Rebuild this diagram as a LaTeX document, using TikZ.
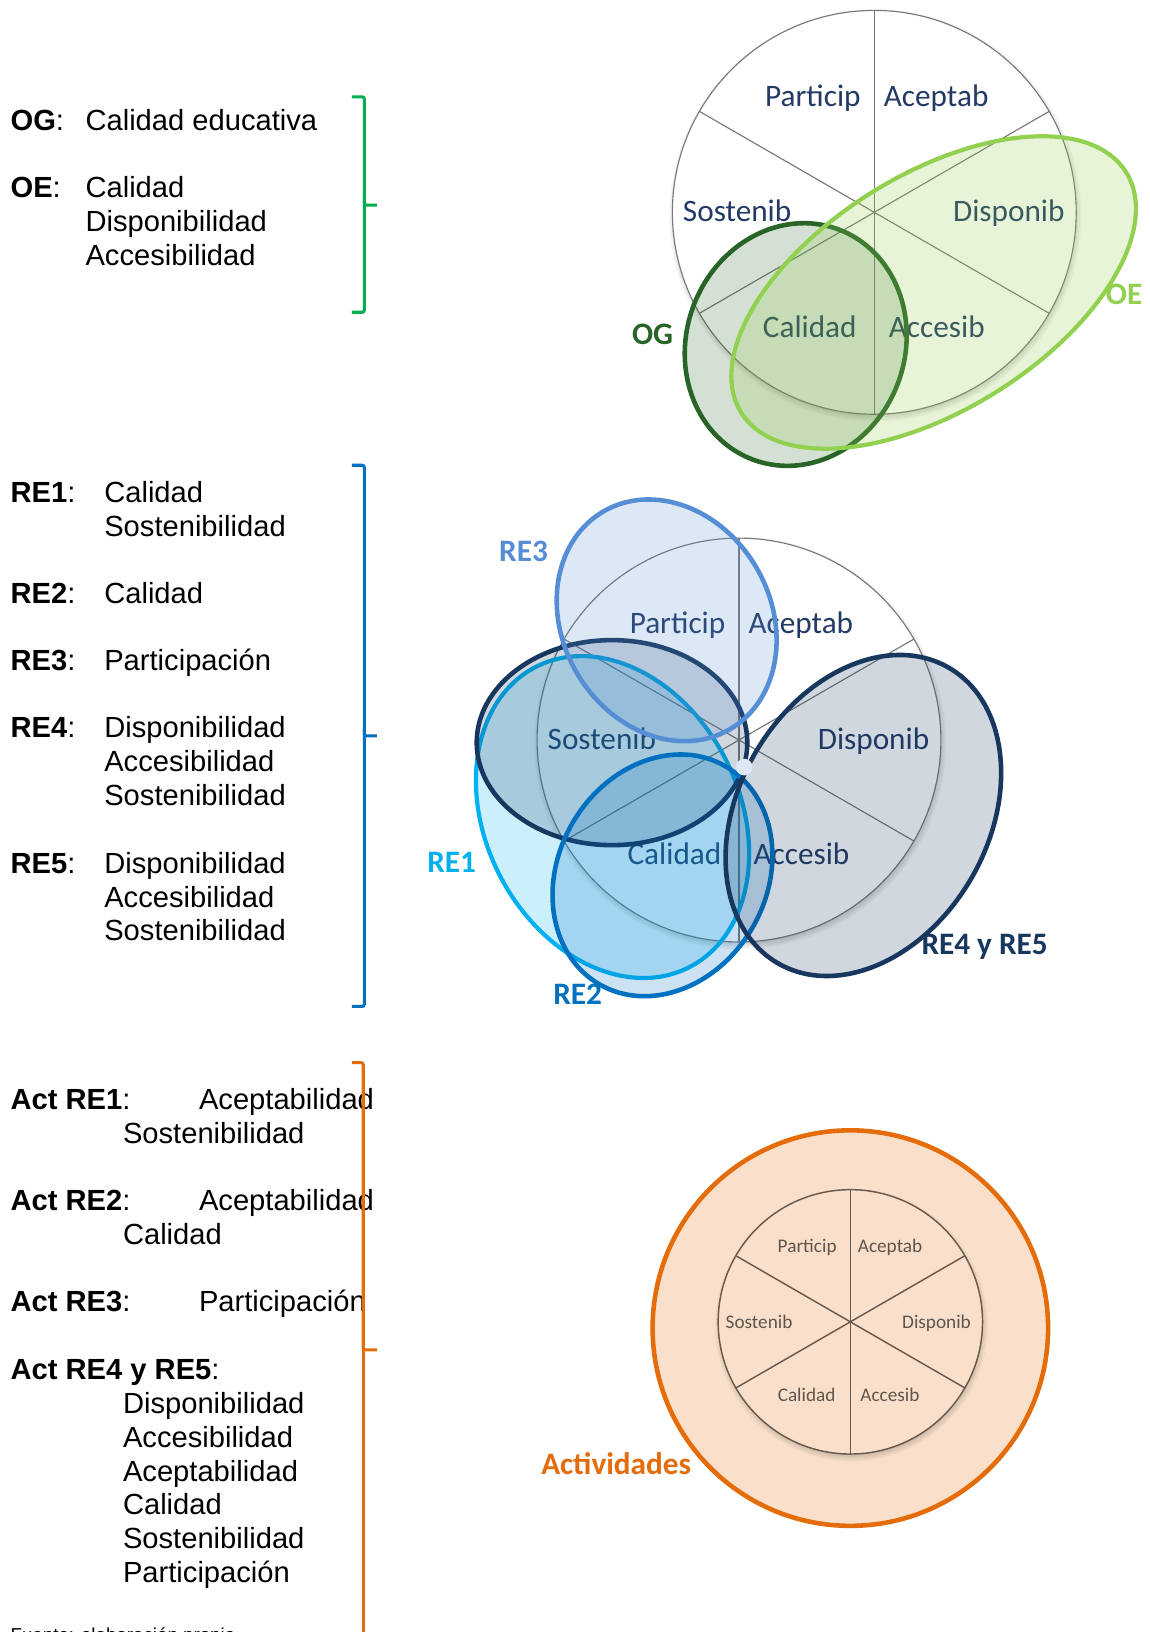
\documentclass[tikz,border=0pt]{standalone}
\usepackage{fontspec}
\setmainfont{Liberation Sans}
\newfontfamily\carl{Carlito}
\usetikzlibrary{calc}
\definecolor{gbr}{RGB}{0,176,80}
\definecolor{bbr}{RGB}{0,112,192}
\definecolor{obr}{RGB}{228,108,10}
\definecolor{pielab}{RGB}{35,58,100}
\definecolor{ogcol}{RGB}{40,100,40}
\definecolor{oecol}{RGB}{146,208,80}
\definecolor{recolc}{RGB}{85,142,213}
\definecolor{recola}{RGB}{0,176,240}
\definecolor{recolb}{RGB}{0,112,192}
\definecolor{recold}{RGB}{23,55,94}
\definecolor{peach}{RGB}{250,224,202}
\definecolor{brn}{RGB}{95,85,78}
\definecolor{pieln}{RGB}{120,120,120}
\definecolor{brnln}{RGB}{105,90,80}
\newcommand\drawpie[4]{%
  \foreach \i in {0,...,5} \fill[black,opacity=0.035] ($(#1)+(1,3)$) circle ({#2+4-\i*1.5});
  \fill[#4] (#1) circle (#2);
  \foreach \a in {90,30,150} \draw[#3] ($(#1)+(\a:#2)$) -- ($(#1)+(\a+180:#2)$);
  \draw[#3] (#1) circle (#2);
}
\begin{document}
\begin{tikzpicture}[x=1pt,y=-1pt,
  txt/.style={anchor=base west, inner sep=0pt, font=\fontsize{28}{32.5}\selectfont},
  lbl/.style={anchor=base, inner sep=0pt, font=\carl\fontsize{30}{32}\selectfont\bfseries},
  pl/.style={inner sep=0pt, font=\carl\fontsize{30}{32}\selectfont, text=pielab},
  spl/.style={inner sep=0pt, font=\carl\fontsize{18.5}{20}\selectfont, text=brn},
  brack/.style={line width=2.9pt, rounded corners=2pt},
  ring/.style={line width=4.4pt},
  bigline/.style={draw=pieln, line width=1.1pt},
  smallline/.style={draw=brnln, line width=1.4pt}]
\useasboundingbox (0,0) rectangle (1104,1568);
\fill[white] (0,0) rectangle (1104,1568);

% ---------------- left texts ----------------
\node[txt] (og) at (10,125) {\textbf{OG}:};
\node[txt] (ogv) at (82,125) {Calidad educativa};
\node[txt] (oe) at (10,190) {\textbf{OE}:};
\node[txt] (oev) at (82,190) {\begin{tabular}[t]{@{}l@{}}Calidad\\Disponibilidad\\Accesibilidad\end{tabular}};

\node[txt] (re1) at (10,483) {\textbf{RE1}:};
\node[txt] (re1v) at (100,483) {\begin{tabular}[t]{@{}l@{}}Calidad\\Sostenibilidad\end{tabular}};
\node[txt] (re2) at (10,580) {\textbf{RE2}:};
\node[txt] (re2v) at (100,580) {Calidad};
\node[txt] (re3) at (10,644) {\textbf{RE3}:};
\node[txt] (re3v) at (100,644) {Participación};
\node[txt] (re4) at (10,709) {\textbf{RE4}:};
\node[txt] (re4v) at (100,709) {\begin{tabular}[t]{@{}l@{}}Disponibilidad\\Accesibilidad\\Sostenibilidad\end{tabular}};
\node[txt] (re5) at (10,839) {\textbf{RE5}:};
\node[txt] (re5v) at (100,839) {\begin{tabular}[t]{@{}l@{}}Disponibilidad\\Accesibilidad\\Sostenibilidad\end{tabular}};

\node[txt] (a1) at (10,1066) {\textbf{Act RE1}:};
\node[txt] (a1v) at (191,1066) {Aceptabilidad};
\node[txt] (a1w) at (118,1099) {Sostenibilidad};
\node[txt] (a2) at (10,1163) {\textbf{Act RE2}:};
\node[txt] (a2v) at (191,1163) {Aceptabilidad};
\node[txt] (a2w) at (118,1196) {Calidad};
\node[txt] (a3) at (10,1260) {\textbf{Act RE3}:};
\node[txt] (a3v) at (191,1260) {Participación};
\node[txt] (a4) at (10,1325) {\textbf{Act RE4 y RE5}:};
\node[txt] (a4v) at (118,1358) {\begin{tabular}[t]{@{}l@{}}Disponibilidad\\Accesibilidad\\Aceptabilidad\\Calidad\\Sostenibilidad\\Participación\end{tabular}};

\node[anchor=base west, inner sep=0pt, font=\fontsize{18}{20}\selectfont] (fuente) at (10,1577) {Fuente: elaboración propia};

% ---------------- brackets ----------------
\draw[brack, gbr] (338,93) -- (350,93) -- (350,197) -- (362,197);
\draw[brack, gbr] (350,190) -- (350,300) -- (338,300);
\draw[brack, bbr] (338,447) -- (350,447) -- (350,707) -- (362,707);
\draw[brack, bbr] (350,700) -- (350,967) -- (338,967);
\draw[brack, obr] (338,1021) -- (349,1021) -- (349,1297) -- (362,1297);
\draw[brack, obr] (349,1290) -- (349,1600);

% ---------------- top diagram ----------------
\coordinate (tc) at (840,204);
\drawpie{tc}{194}{bigline}{white}
\node[pl, anchor=base east] (tp1) at ($(tc)+(-13,-102)$) {Particip};
\node[pl, anchor=base west] (tp2) at ($(tc)+(9,-102)$) {Aceptab};
\node[pl, anchor=base west] (tp3) at ($(tc)+(-184,9)$) {Sostenib};
\node[pl, anchor=base east] (tp4) at ($(tc)+(183,9)$) {Disponib};
\node[pl, anchor=base] (tp5) at ($(tc)+(-62,120)$) {Calidad};
\node[pl, anchor=base] (tp6) at ($(tc)+(60,120)$) {Accesib};

\coordinate (ogc) at (764.5,331);
\filldraw[draw=ogcol, ring, fill=ogcol, fill opacity=0.2, rotate around={-20:(ogc)}] (ogc) ellipse [x radius=105, y radius=118];
\coordinate (oec) at (897,281);
\filldraw[draw=oecol, ring, line width=4pt, fill=oecol, fill opacity=0.22, rotate around={32:(oec)}] (oec) ellipse [x radius=218, y radius=113];
\node[lbl, text=ogcol] (oglab) at (627,331) {OG};
\node[lbl, text=oecol] (oelab) at (1080,293) {OE};

% ---------------- middle diagram ----------------
\coordinate (mc) at (710,711);
\drawpie{mc}{194}{bigline}{white}
\node[pl, anchor=base east] (mp1) at ($(mc)+(-13,-102)$) {Particip};
\node[pl, anchor=base west] (mp2) at ($(mc)+(9,-102)$) {Aceptab};
\node[pl, anchor=base west] (mp3) at ($(mc)+(-184,9)$) {Sostenib};
\node[pl, anchor=base east] (mp4) at ($(mc)+(183,9)$) {Disponib};
\node[pl, anchor=base] (mp5) at ($(mc)+(-62,120)$) {Calidad};
\node[pl, anchor=base] (mp6) at ($(mc)+(60,120)$) {Accesib};

\coordinate (e1) at (588.5,785);
\filldraw[draw=recola, ring, line width=4pt, fill=recola, fill opacity=0.2, rotate around={27:(e1)}] (e1) ellipse [x radius=122, y radius=162];
\coordinate (e4a) at (588,713.5);
\filldraw[draw=recold, ring, fill=recold, fill opacity=0.2] (e4a) ellipse [x radius=130, y radius=98.5];
\coordinate (e2) at (636.5,841);
\filldraw[draw=recolb, ring, fill=recolb, fill opacity=0.2, rotate around={-30:(e2)}] (e2) ellipse [x radius=100, y radius=121];
\coordinate (e4b) at (829.5,783.5);
\filldraw[draw=recold, ring, fill=recold, fill opacity=0.2, rotate around={-30:(e4b)}] (e4b) ellipse [x radius=120, y radius=164];
\coordinate (e3) at (640.5,596);
\filldraw[draw=recolc, ring, fill=recolc, fill opacity=0.2, rotate around={30:(e3)}] (e3) ellipse [x radius=100, y radius=121];
\fill[white!80!recolc] (715,737) circle (8);

\node[lbl, text=recolc] (l3) at (503,539) {RE3};
\node[lbl, text=recola] (l1) at (434,838) {RE1};
\node[lbl, text=recolb] (l2) at (555,965) {RE2};
\node[lbl, text=recold] (l45) at (946,917) {RE4 y RE5};

% ---------------- bottom diagram ----------------
\coordinate (bc) at (817,1276);
\filldraw[draw=obr, ring, fill=peach] (bc) circle (190);
\coordinate (bp) at (817,1270);
\drawpie{bp}{127}{smallline}{peach}
\node[spl, anchor=base east] (bp1) at ($(bp)+(-13,-67)$) {Particip};
\node[spl, anchor=base west] (bp2) at ($(bp)+(7,-67)$) {Aceptab};
\node[spl, anchor=base west] (bp3) at ($(bp)+(-120,6)$) {Sostenib};
\node[spl, anchor=base east] (bp4) at ($(bp)+(116,6)$) {Disponib};
\node[spl, anchor=base] (bp5) at ($(bp)+(-42,77)$) {Calidad};
\node[spl, anchor=base] (bp6) at ($(bp)+(38,77)$) {Accesib};
\node[lbl, text=obr] (act) at (592,1417) {Actividades};
\end{tikzpicture}
\end{document}
